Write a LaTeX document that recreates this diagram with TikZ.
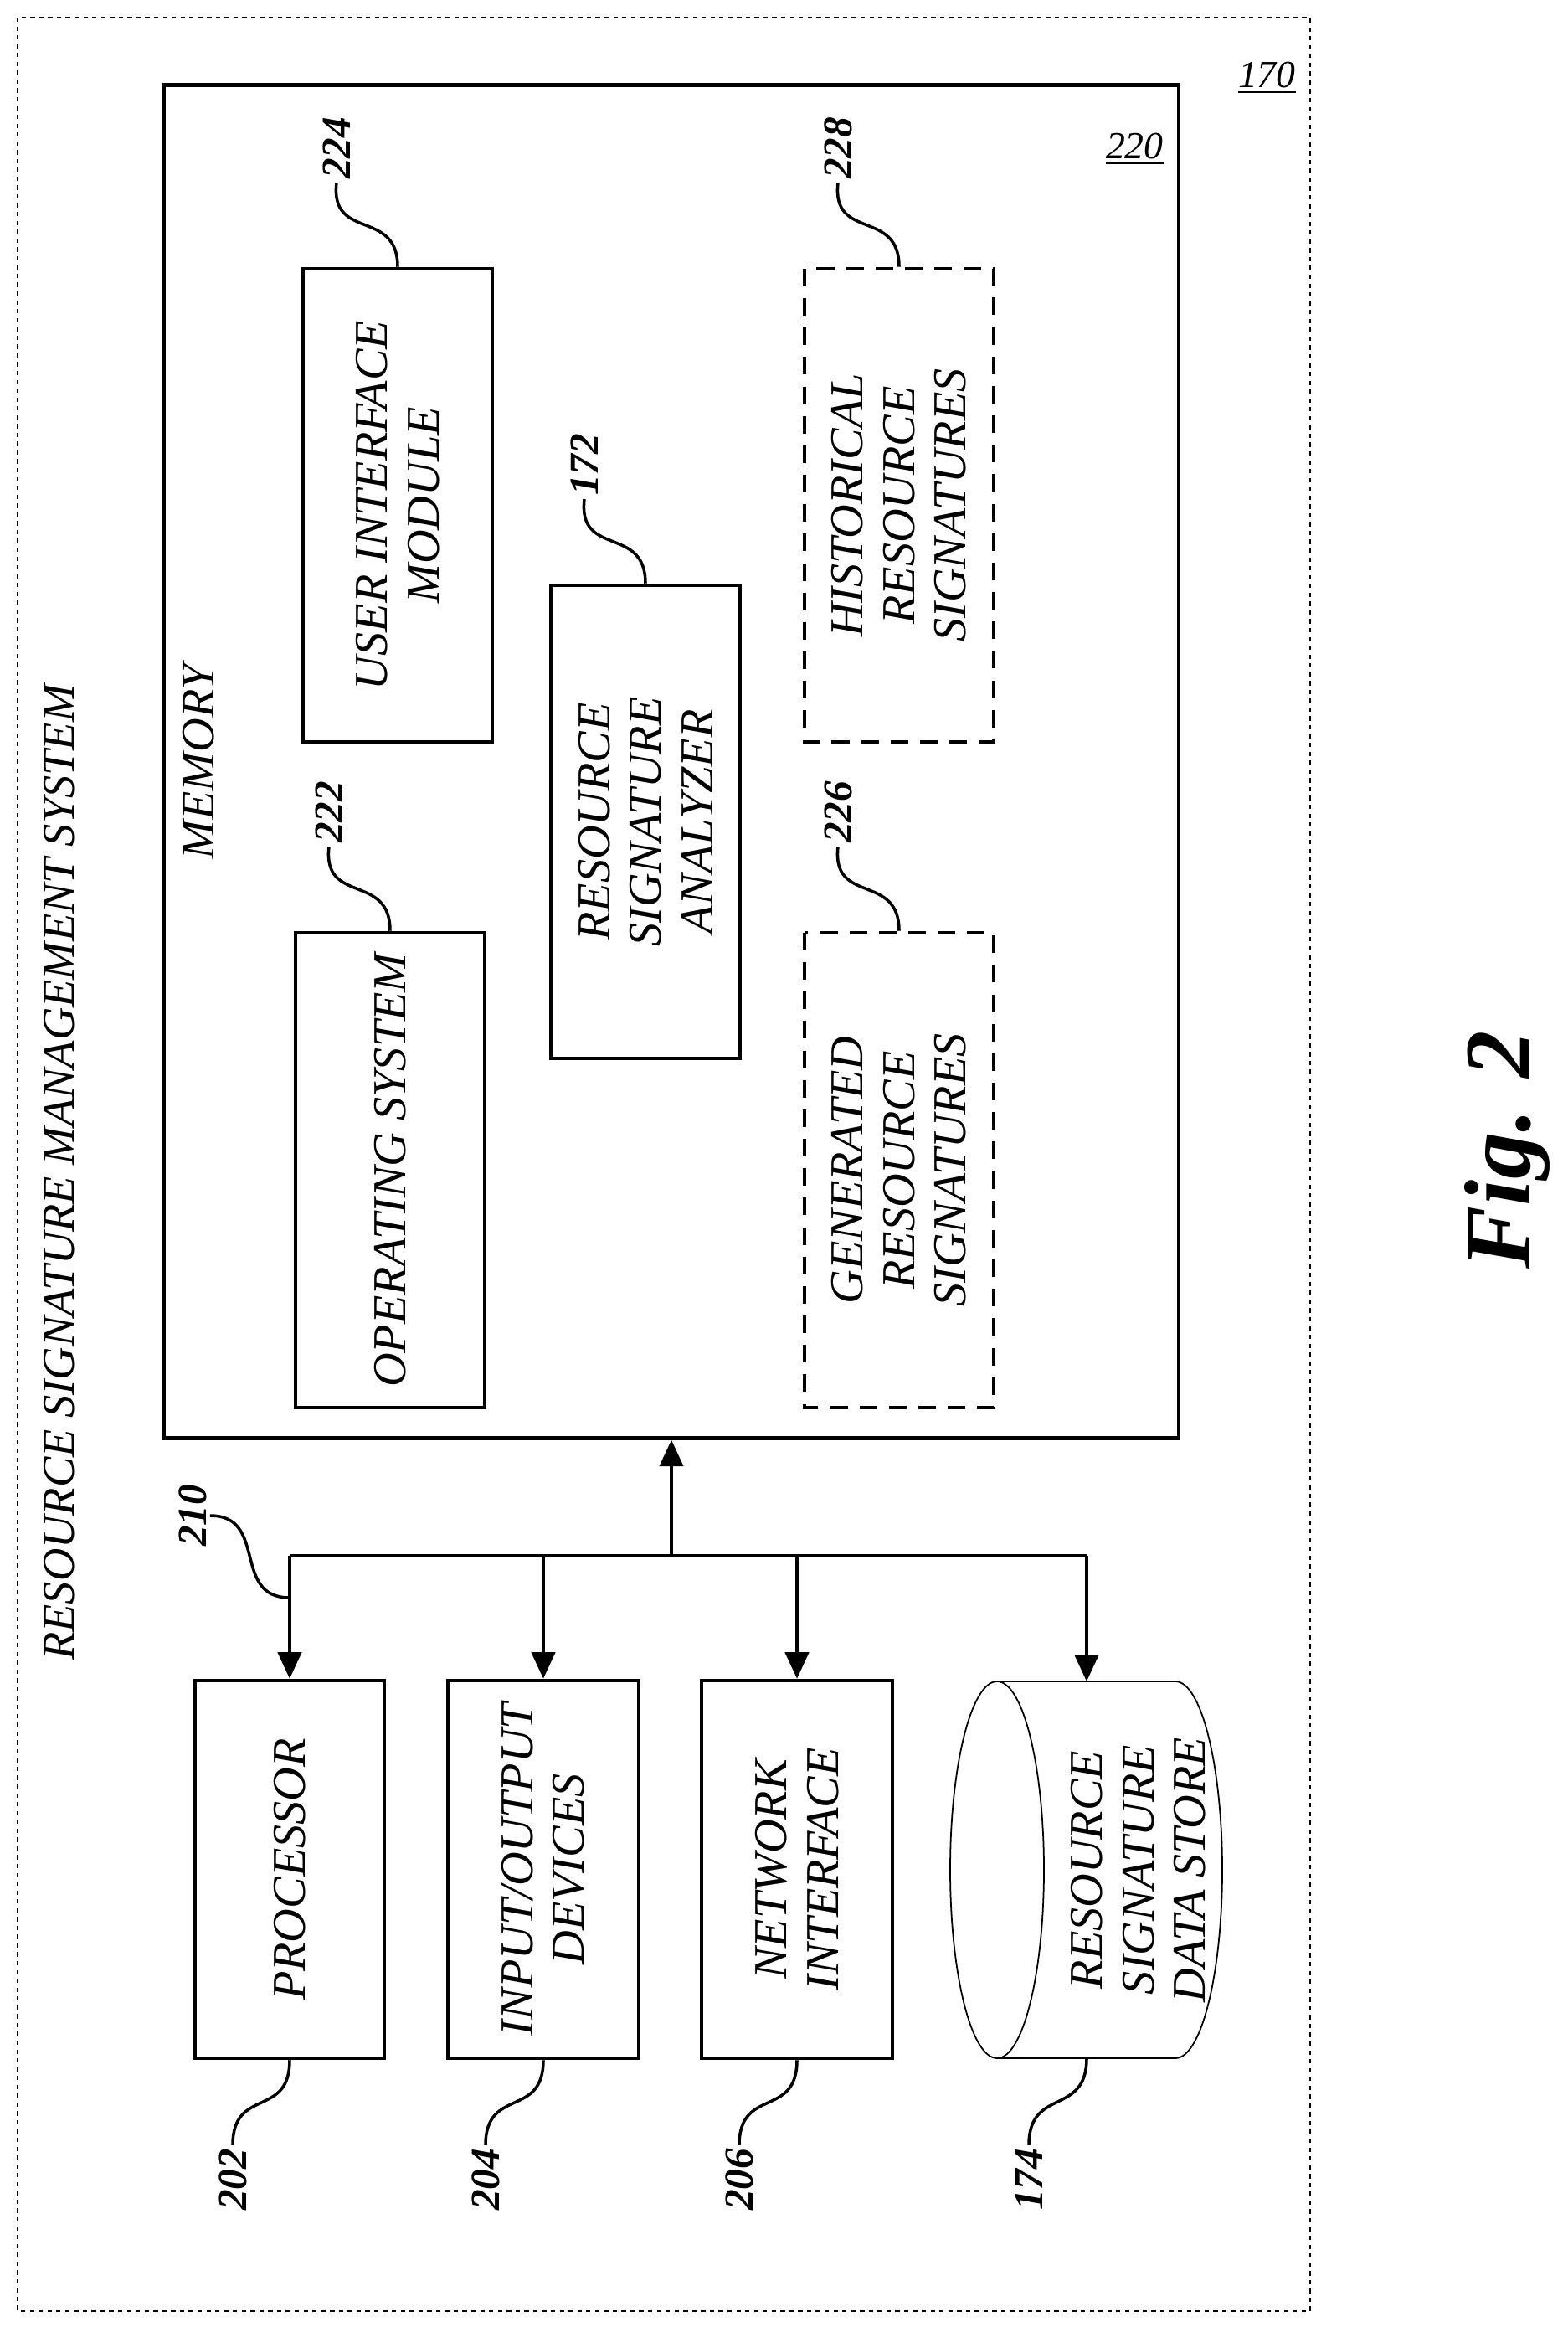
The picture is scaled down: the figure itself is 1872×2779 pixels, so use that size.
\documentclass[tikz,border=0pt]{standalone}
\usepackage{fontspec}
\setmainfont{Liberation Serif}
\usetikzlibrary{calc,arrows.meta}
\tikzset{box/.style={
    draw,
    line width=1.2pt,
    rotate=90,
    align=center,
    font=\fontsize{16}{17.5}\selectfont\itshape}}
\tikzset{ghost/.style={
    box,
    dash pattern=on 6pt off 4pt}}
\tikzset{refnum/.style={
    rotate=90,
    inner sep=1pt,
    font=\fontsize{14}{16}\selectfont\bfseries\itshape}}
\tikzset{lead/.style={
    line width=1pt}}
\tikzset{link/.style={
    -{Triangle[length=9pt,width=8pt]},
    line width=1.2pt}}

\begin{document}
\begin{tikzpicture}[x=0.01cm, y=-0.01cm]
  \useasboundingbox (0,0) rectangle (1872,2779);
\draw[line width=0.5pt, dash pattern=on 1.5pt off 1.5pt] (21,21) rectangle (1565,2760);
\node[anchor=east, font=\fontsize{13}{15}\selectfont\itshape] (n170) at (1560,93) {\underline{170}};
\node[rotate=90, font=\fontsize{15.5}{17}\selectfont\itshape] (title) at (71,1400)
  {RESOURCE SIGNATURE MANAGEMENT SYSTEM};

% memory block
\node[draw,
  line width=1.2pt,
  minimum width=12.12cm,
  minimum height=16.15cm] (mem) at (802,909.5) {};
\node[anchor=east, font=\fontsize{13}{15}\selectfont\itshape] (n220) at (1402,178) {\underline{220}};
\node[rotate=90, font=\fontsize{16}{17}\selectfont\itshape] (memlbl) at (237,910) {MEMORY};

\node[box, minimum width=5.67cm, minimum height=2.26cm] (os) at (466,1397.5) {OPERATING SYSTEM};
\node[box, minimum width=5.65cm, minimum height=2.26cm] (ui) at (475,603.5) {USER INTERFACE\\MODULE};
\node[box, minimum width=5.65cm, minimum height=2.26cm] (rsa) at (771,981.5) {RESOURCE\\SIGNATURE\\ANALYZER};
\node[ghost, minimum width=5.65cm, minimum height=2.26cm] (hist) at (1074,603.5) {HISTORICAL\\RESOURCE\\SIGNATURES};
\node[ghost, minimum width=5.67cm, minimum height=2.26cm] (gen) at (1074,1397.5) {GENERATED\\RESOURCE\\SIGNATURES};

% hardware row
\node[box, minimum width=4.51cm, minimum height=2.26cm] (proc) at (346,2232.5) {PROCESSOR};
\node[box, minimum width=4.51cm, minimum height=2.28cm] (io) at (649,2232.5) {INPUT/OUTPUT\\DEVICES};
\node[box, minimum width=4.51cm, minimum height=2.28cm] (net) at (952,2232.5) {NETWORK\\INTERFACE};

% data store
\draw[line width=0.5pt] (1191,2008) -- (1404,2008)
  arc[start angle=90, end angle=-90, x radius=56, y radius=-225] -- (1191,2458);
\draw[line width=0.5pt] (1191,2233) ellipse[x radius=56, y radius=225];
\coordinate (dbtop) at (1298,2008);
\coordinate (dbbot) at (1298,2458);
\node[rotate=90, align=center, font=\fontsize{16}{17.5}\selectfont\itshape] (db) at (1360,2233)
  {RESOURCE\\SIGNATURE\\DATA STORE};

% bus
\coordinate (busY) at (0,1858);
\draw[line width=1.2pt] (proc.east |- busY) -- (dbtop |- busY);
\draw[link] (proc.east |- busY) -- (proc.east);
\draw[link] (io.east |- busY) -- (io.east);
\draw[link] (net.east |- busY) -- (net.east);
\draw[link] (dbtop |- busY) -- (dbtop);
\draw[link] (mem.south |- busY) -- (mem.south);

% reference numerals
\node[refnum] (r224) at (402,177) {224};
\node[refnum] (r222) at (393,970) {222};
\node[refnum] (r172) at (698,555) {172};
\node[refnum] (r228) at (1001,177) {228};
\node[refnum] (r226) at (1001,970) {226};
\node[refnum] (r210) at (230,1810) {210};
\node[refnum] (r202) at (278,2603) {202};
\node[refnum] (r204) at (580,2603) {204};
\node[refnum] (r206) at (883,2603) {206};
\node[refnum] (r174) at (1229,2603) {174};

\draw[lead] (r224.west) .. controls +(-8,70) and +(0,-70) .. (ui.east);
\draw[lead] (r222.west) .. controls +(-8,70) and +(0,-70) .. (os.east);
\draw[lead] (r172.west) .. controls +(-8,70) and +(0,-70) .. (rsa.east);
\draw[lead] (r228.west) .. controls +(-8,70) and +(0,-70) .. (hist.east);
\draw[lead] (r226.west) .. controls +(-8,70) and +(0,-70) .. (gen.east);
\draw[lead] (r210.south) .. controls +(70,0) and +(-70,0) .. ($(proc.east |- busY)+(0,50)$);
\draw[lead] (proc.west) .. controls +(0,70) and +(0,-70) .. (r202.east);
\draw[lead] (io.west) .. controls +(0,70) and +(0,-70) .. (r204.east);
\draw[lead] (net.west) .. controls +(0,70) and +(0,-70) .. (r206.east);
\draw[lead] (dbbot) .. controls +(0,70) and +(0,-70) .. (r174.east);

\node[rotate=90, font=\fontsize{32}{36}\selectfont\bfseries\itshape] (fig) at (1800,1373) {Fig. 2};
\end{tikzpicture}
\end{document}
